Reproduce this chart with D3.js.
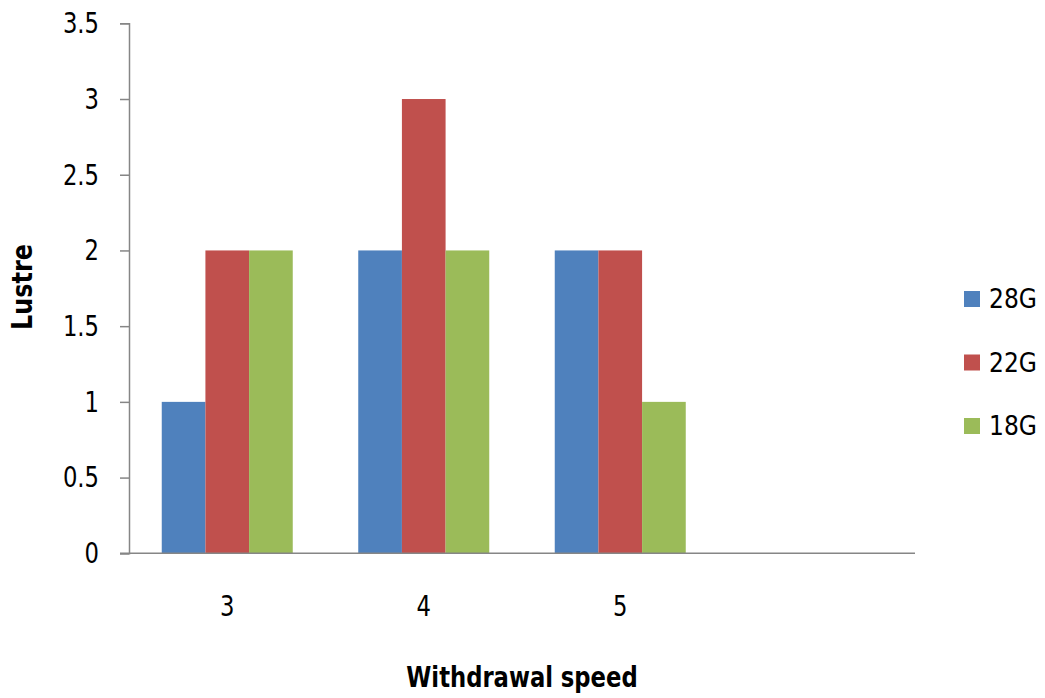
<!DOCTYPE html>
<html><head><meta charset="utf-8">
<script src="https://cdn.jsdelivr.net/npm/d3@7/dist/d3.min.js"></script>
<style>
body{margin:0;background:#fff;}
text{font-family:"DejaVu Sans Condensed","DejaVu Sans",sans-serif;}
</style></head>
<body><svg id="c" width="1045" height="698"></svg>
<script>
const categories = ["3","4","5",""];
const seriesNames = ["28G","22G","18G"];
const s28G = [1,2,2,null];
const s22G = [2,3,2,null];
const s18G = [2,2,1,null];
const yTicks = [0,0.5,1,1.5,2,2.5,3,3.5];
const colors = ["#4F81BD","#C0504D","#9BBB59"];
const seriesValues = [s28G,s22G,s18G];

const svg = d3.select("#c");
const mLeft = 129, mRight = 915, mTop = 23.3, mBottom = 553.3;
const x = d3.scaleBand().domain(categories).range([mLeft,mRight]).padding(0);
const y = d3.scaleLinear().domain([0,3.5]).range([mBottom,mTop]);
const groupW = x.step()/1.5;
const x1 = d3.scaleBand().domain(seriesNames).range([0,groupW]).padding(0);

function squeeze(sel,k){
  sel.each(function(){
    const w = this.getComputedTextLength();
    if(w>0) d3.select(this).attr("textLength",w*k).attr("lengthAdjust","spacingAndGlyphs");
  });
}

// bars
seriesNames.forEach((s,si)=>{
  svg.append("g").selectAll("rect")
    .data(categories.map((c,i)=>({c,v:seriesValues[si][i]})).filter(d=>d.v!=null))
    .join("rect")
    .attr("x",d=>x(d.c)+(x.step()-groupW)/2+x1(s))
    .attr("width",x1.bandwidth())
    .attr("y",d=>y(d.v))
    .attr("height",d=>mBottom-y(d.v))
    .attr("fill",colors[si]);
});

// y axis
const ya = svg.append("g").attr("transform",`translate(${mLeft},0)`)
  .call(d3.axisLeft(y).tickValues(yTicks).tickSize(9).tickPadding(21).tickFormat(d=>d));
ya.select(".domain").attr("stroke","#868686").attr("stroke-width",1.5);
ya.selectAll(".tick line").attr("stroke","#868686").attr("stroke-width",1.5);
ya.selectAll(".tick text").attr("font-size",29).attr("fill","#000").call(squeeze,0.87);

// x axis
const xa = svg.append("g").attr("transform",`translate(0,${mBottom})`)
  .call(d3.axisBottom(x).tickSize(0).tickPadding(42).tickSizeOuter(0));
xa.select(".domain").attr("stroke","#868686").attr("stroke-width",1.5).attr("d",`M${mLeft-9},0H${mRight}`);
xa.selectAll(".tick text").attr("font-size",29).attr("fill","#000").call(squeeze,0.87);

// axis titles
svg.append("text").attr("transform","translate(32,287) rotate(-90)")
  .attr("text-anchor","middle").attr("font-weight","bold").attr("font-size",28).text("Lustre").call(squeeze,0.95);
svg.append("text").attr("x",522).attr("y",687)
  .attr("text-anchor","middle").attr("font-weight","bold").attr("font-size",29).text("Withdrawal speed").call(squeeze,0.87);

// legend
const lg = svg.append("g");
seriesNames.forEach((s,i)=>{
  const cy = 299 + i*63.5;
  lg.append("rect").attr("x",964).attr("y",cy-8).attr("width",16).attr("height",16).attr("fill",colors[i]);
  lg.append("text").attr("x",989).attr("y",cy).attr("dy","0.36em").attr("font-size",26).text(s);
});
</script></body></html>
